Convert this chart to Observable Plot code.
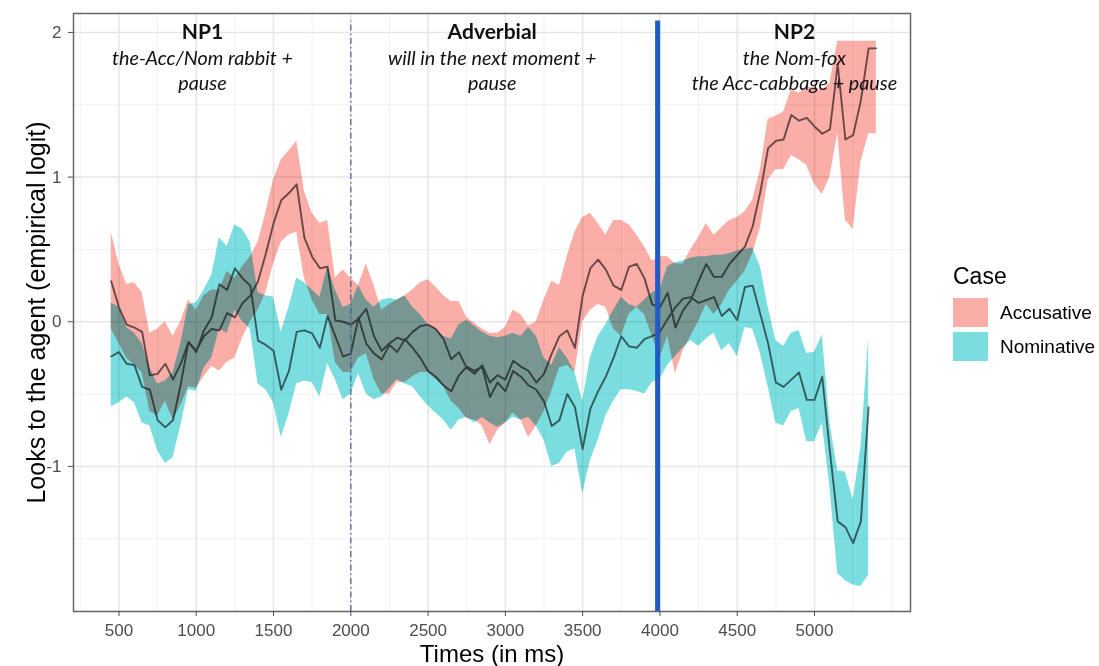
<!DOCTYPE html>
<html><head><meta charset="utf-8">
<script src="https://cdn.jsdelivr.net/npm/d3@7"></script>
<script src="https://cdn.jsdelivr.net/npm/@observablehq/plot@0.6"></script>
<style>
body{margin:0;background:#fff;}
#wrap{position:relative;width:1099px;height:666px;overflow:hidden;}
#legend{position:absolute;left:0;top:0;font-family:"Liberation Sans",Arial,sans-serif;color:#000;}
#legend .t{position:absolute;left:953px;top:262px;font-size:23px;line-height:28px;white-space:nowrap;}
#legend .k{position:absolute;left:953px;width:35px;height:29px;}
#legend .l{position:absolute;left:1000px;font-size:19px;line-height:24px;white-space:nowrap;}
</style></head><body><div id="wrap"></div><script>
const times = [450,500,550,600,650,700,750,800,850,900,950,1000,1050,1100,1150,1200,1250,1300,1350,1400,1450,1500,1550,1600,1650,1700,1750,1800,1850,1900,1950,2000,2050,2100,2150,2200,2250,2300,2350,2400,2450,2500,2550,2600,2650,2700,2750,2800,2850,2900,2950,3000,3050,3100,3150,3200,3250,3300,3350,3400,3450,3500,3550,3600,3650,3700,3750,3800,3850,3900,3950,4000,4050,4100,4150,4200,4250,4300,4350,4400,4450,4500,4550,4600,4650,4700,4750,4800,4850,4900,4950,5000,5050,5100,5150,5200,5250,5300,5350,5400];

const accMean = [0.28,0.10,-0.02,-0.04,-0.07,-0.37,-0.36,-0.29,-0.40,-0.29,
-0.14,-0.20,-0.10,-0.05,-0.06,0.06,0.03,0.13,0.18,0.28,
0.47,0.68,0.84,0.89,0.95,0.58,0.45,0.37,0.38,0.01,
0.00,-0.02,0.02,0.09,-0.10,-0.20,-0.15,-0.11,-0.13,-0.07,
-0.03,-0.02,-0.05,-0.12,-0.26,-0.21,-0.32,-0.36,-0.30,-0.42,
-0.37,-0.40,-0.27,-0.31,-0.34,-0.42,-0.36,-0.22,-0.10,-0.06,
-0.18,0.18,0.37,0.43,0.36,0.25,0.22,0.38,0.40,0.30,
0.12,0.10,0.20,-0.04,0.08,0.15,0.28,0.40,0.31,0.31,
0.40,0.46,0.52,0.66,0.90,1.20,1.25,1.26,1.43,1.39,
1.41,1.35,1.30,1.33,1.78,1.26,1.29,1.53,1.89,1.89];

const accLo = [-0.05,-0.15,-0.25,-0.30,-0.35,-0.62,-0.65,-0.55,-0.68,-0.58,
-0.45,-0.46,-0.38,-0.31,-0.34,-0.28,-0.25,-0.11,0.00,0.08,
0.20,0.40,0.55,0.60,0.62,0.30,0.15,0.05,0.05,-0.28,
-0.35,-0.35,-0.25,-0.22,-0.40,-0.50,-0.50,-0.42,-0.42,-0.38,
-0.35,-0.35,-0.40,-0.45,-0.55,-0.60,-0.67,-0.68,-0.72,-0.85,
-0.75,-0.70,-0.63,-0.68,-0.80,-0.72,-0.62,-0.48,-0.32,-0.30,
-0.35,0.00,0.08,0.12,0.10,-0.05,-0.10,0.05,0.10,0.05,
-0.10,-0.25,-0.10,-0.36,-0.20,-0.10,0.00,0.12,0.05,0.12,
0.22,0.28,0.35,0.47,0.65,0.98,1.05,1.05,1.15,1.12,
1.08,0.95,0.88,1.00,1.30,0.70,0.64,1.10,1.30,1.30];

const accHi = [0.62,0.40,0.26,0.27,0.20,-0.08,-0.05,0.00,-0.10,0.00,
0.15,0.08,0.18,0.22,0.22,0.35,0.30,0.38,0.45,0.55,
0.75,0.98,1.12,1.18,1.25,0.90,0.75,0.68,0.70,0.30,
0.36,0.30,0.25,0.40,0.25,0.08,0.12,0.15,0.18,0.22,
0.27,0.29,0.24,0.18,0.14,0.14,0.03,-0.01,-0.05,-0.08,
-0.08,-0.04,0.08,0.05,-0.03,0.00,0.15,0.28,0.25,0.45,
0.62,0.72,0.75,0.68,0.60,0.70,0.70,0.67,0.60,0.52,
0.42,0.45,0.45,0.40,0.40,0.50,0.58,0.68,0.60,0.65,
0.70,0.72,0.76,0.84,1.05,1.40,1.42,1.45,1.60,1.58,
1.62,1.62,1.60,1.65,1.94,1.94,1.94,1.94,1.94,1.94];

const nomMean = [-0.24,-0.21,-0.29,-0.30,-0.45,-0.47,-0.68,-0.73,-0.68,-0.43,
-0.14,-0.21,-0.06,0.03,0.26,0.22,0.37,0.30,0.25,-0.13,
-0.16,-0.20,-0.47,-0.34,-0.07,-0.06,-0.08,-0.18,0.04,-0.10,
-0.24,-0.22,0.03,-0.15,-0.22,-0.26,-0.16,-0.21,-0.12,-0.18,
-0.25,-0.34,-0.38,-0.44,-0.48,-0.37,-0.31,-0.34,-0.31,-0.52,
-0.42,-0.48,-0.34,-0.38,-0.44,-0.47,-0.55,-0.72,-0.68,-0.50,
-0.59,-0.88,-0.60,-0.48,-0.38,-0.25,-0.10,-0.17,-0.18,-0.12,
-0.10,-0.07,0.02,0.10,0.16,0.17,0.13,0.15,0.17,0.04,
0.09,0.01,0.24,0.25,0.05,-0.15,-0.42,-0.45,-0.40,-0.35,
-0.54,-0.54,-0.38,-0.90,-1.38,-1.42,-1.53,-1.38,-0.59];

const nomLo = [-0.59,-0.56,-0.52,-0.56,-0.70,-0.72,-0.89,-0.98,-0.94,-0.72,
-0.47,-0.48,-0.32,-0.25,-0.05,-0.08,0.08,0.00,-0.05,-0.43,
-0.47,-0.56,-0.80,-0.64,-0.43,-0.41,-0.42,-0.52,-0.29,-0.40,
-0.54,-0.50,-0.36,-0.50,-0.54,-0.52,-0.46,-0.40,-0.43,-0.45,
-0.52,-0.58,-0.63,-0.68,-0.75,-0.68,-0.66,-0.70,-0.66,-0.70,
-0.73,-0.70,-0.66,-0.68,-0.66,-0.72,-0.82,-1.00,-0.98,-0.90,
-0.88,-1.19,-0.96,-0.82,-0.65,-0.55,-0.47,-0.47,-0.48,-0.50,
-0.42,-0.40,-0.30,-0.24,-0.18,-0.13,-0.17,-0.12,-0.08,-0.20,
-0.15,-0.24,-0.04,-0.05,-0.22,-0.45,-0.70,-0.72,-0.62,-0.60,
-0.83,-0.83,-0.70,-1.15,-1.74,-1.79,-1.82,-1.83,-1.75];

const nomHi = [0.13,0.10,-0.04,-0.08,-0.15,-0.32,-0.43,-0.41,-0.35,-0.15,
0.12,0.13,0.22,0.32,0.58,0.52,0.67,0.64,0.55,0.20,
0.18,0.17,-0.07,0.10,0.30,0.27,0.22,0.17,0.38,0.22,
0.10,0.12,0.25,0.15,0.10,0.15,0.16,0.15,0.18,0.10,
0.05,-0.02,-0.05,-0.10,-0.12,-0.02,0.01,-0.03,-0.07,-0.10,
-0.11,-0.10,-0.08,-0.10,-0.04,-0.10,-0.25,-0.30,-0.18,-0.25,
-0.35,-0.55,-0.25,-0.10,-0.02,0.08,0.17,0.12,0.10,0.15,
0.20,0.22,0.38,0.41,0.42,0.44,0.45,0.45,0.46,0.46,
0.47,0.49,0.50,0.51,0.38,0.10,-0.13,-0.17,-0.08,-0.06,
-0.22,-0.21,-0.09,-0.70,-1.03,-1.04,-1.23,-0.87,-0.12];

const caseNames = ["Accusative", "Nominative"];
const caseColors = ["#F8766D", "#00BFC4"];
const caseOpacity = [0.6, 0.52];

const xTicks = [500,1000,1500,2000,2500,3000,3500,4000,4500,5000];
const xMinor = [250,750,1250,1750,2250,2750,3250,3750,4250,4750,5250,5500];
const yTicks = [-1,0,1,2];
const yMinor = [-2,-1.5,-0.5,0.5,1.5];

const segNames = ["NP1", "Adverbial", "NP2"];
const segCenters = [1040, 2915, 4870];
const segGlosses = ["the-Acc/Nom rabbit +\npause", "will in the next moment +\npause", "the Nom-fox\nthe Acc-cabbage + pause"];

const regionBoundary = [2000];
const verbOnset = [3985];

const accRows = times.map((t, i) => ({t, m: accMean[i], lo: accLo[i], hi: accHi[i], c: caseNames[0]}));
const nomRows = nomMean.map((m, i) => ({t: times[i], m, lo: nomLo[i], hi: nomHi[i], c: caseNames[1]}));
const rows = accRows.concat(nomRows);
const segs = segNames.map((n, i) => ({name: n, x: segCenters[i], gloss: segGlosses[i]}));

const annoFont = "Lato, 'Open Sans', sans-serif";
const axisFont = "'Liberation Sans', Arial, sans-serif";

const chart = Plot.plot({
  width: 1099, height: 666,
  marginLeft: 73, marginRight: 189, marginTop: 13, marginBottom: 55,
  x: {domain: [206, 5621]},
  y: {domain: [-2.003, 2.131]},
  color: {domain: caseNames, range: caseColors},
  style: {fontFamily: axisFont, background: "white", overflow: "visible"},
  marks: [
    Plot.ruleX(xMinor, {stroke: "#EFEFEF", strokeWidth: 0.9}),
    Plot.ruleY(yMinor, {stroke: "#EFEFEF", strokeWidth: 0.9}),
    Plot.ruleX(xTicks, {stroke: "#E6E6E6", strokeWidth: 1.5}),
    Plot.ruleY(yTicks, {stroke: "#E6E6E6", strokeWidth: 1.5}),
    Plot.lineY(rows, {x: "t", y: "m", z: "c", stroke: "#6a6a6a", strokeWidth: 1.9}),
    Plot.areaY(accRows, {x: "t", y1: "lo", y2: "hi", fill: caseColors[0], fillOpacity: caseOpacity[0], mixBlendMode: "multiply"}),
    Plot.areaY(nomRows, {x: "t", y1: "lo", y2: "hi", fill: caseColors[1], fillOpacity: caseOpacity[1], mixBlendMode: "multiply"}),
    Plot.ruleX(regionBoundary, {y1: -2.003, y2: 2.08, stroke: "#4a5a9a", strokeWidth: 1.2, strokeDasharray: "6,3,1.5,3"}),
    Plot.ruleX(verbOnset, {y1: -2.003, y2: 2.08, stroke: "#1f5bc4", strokeWidth: 5}),
    Plot.frame({stroke: "#666", strokeWidth: 1.5}),
    Plot.axisX({ticks: xTicks, tickSize: 5, tickPadding: 7, tickFormat: d => String(d), fontSize: 17, color: "#4D4D4D", label: null}),
    Plot.axisY({ticks: yTicks, tickSize: 5, tickPadding: 7, tickFormat: d => String(d), fontSize: 17, color: "#4D4D4D", label: null}),
    Plot.text(["Times (in ms)"], {frameAnchor: "bottom", textAnchor: "middle", lineAnchor: "middle", dy: 43, fontSize: 24, fill: "#000", fontFamily: axisFont}),
    Plot.text(["Looks to the agent (empirical logit)"], {frameAnchor: "left", textAnchor: "middle", lineAnchor: "middle", dx: -37, rotate: -90, fontSize: 25, fill: "#000", fontFamily: axisFont}),
    Plot.text(segs, {x: "x", y: 2.0, text: "name", fontWeight: "bold", fontSize: 21, fontFamily: annoFont, fill: "#111"}),
    Plot.text(segs, {x: "x", y: 2.0, dy: 37, text: "gloss", fontStyle: "italic", fontSize: 19.8, lineHeight: 1.27, fontFamily: annoFont, fill: "#111"})
  ]
});

const wrap = document.getElementById("wrap");
wrap.appendChild(chart);

const legend = document.createElement("div");
legend.id = "legend";
legend.innerHTML =
  `<div class="t">Case</div>` +
  `<div class="k" style="top:298px;background:${caseColors[0]};opacity:${caseOpacity[0]}"></div>` +
  `<div class="l" style="top:301px">${caseNames[0]}</div>` +
  `<div class="k" style="top:332px;background:${caseColors[1]};opacity:${caseOpacity[1]}"></div>` +
  `<div class="l" style="top:335px">${caseNames[1]}</div>`;
wrap.appendChild(legend);
</script></body></html>
